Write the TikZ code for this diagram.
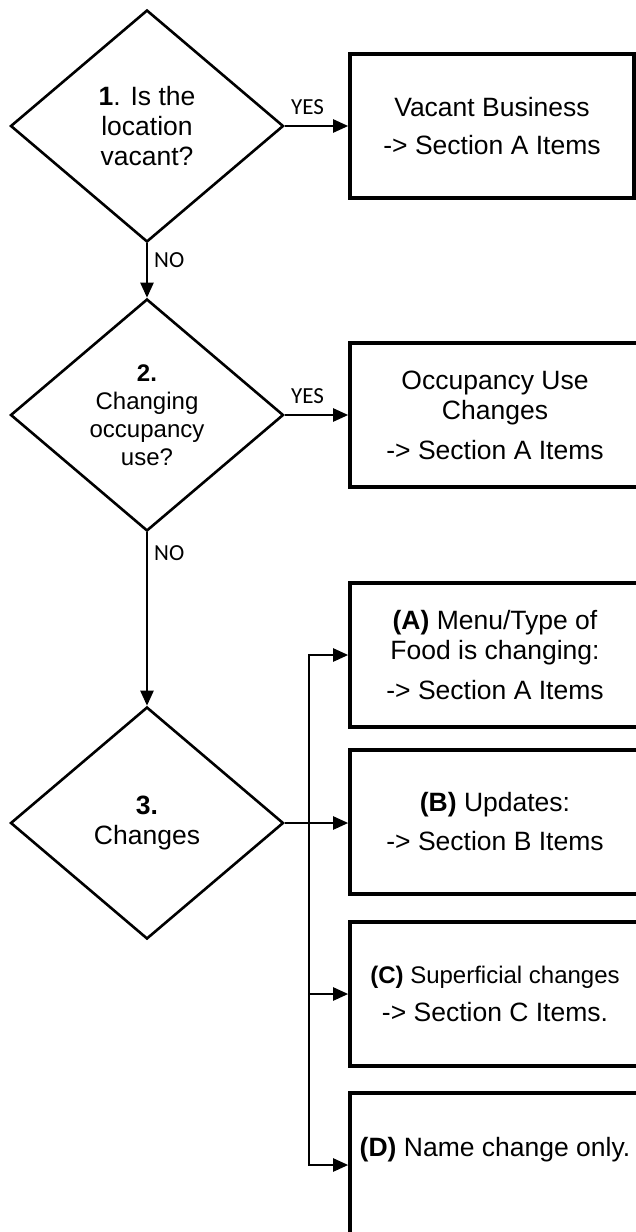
\documentclass[tikz,border=0pt]{standalone}
\usepackage{fontspec}
\setmainfont{Liberation Sans}
\newfontfamily\labelfont{Carlito}
\usepackage{tikz}
\usetikzlibrary{shapes.geometric,arrows.meta,calc}

\tikzset{
  question/.style={diamond, draw, line width=2.6pt, minimum width=273pt,
    minimum height=232pt, inner sep=0pt, align=center,
    font=\fontsize{26.5}{30}\selectfont},
  outcome/.style={rectangle, draw, line width=3.6pt, minimum width=290pt,
    minimum height=144pt, inner sep=0pt, align=center,
    font=\fontsize{26.5}{30}\selectfont},
  flow/.style={line width=2.3pt, -{Triangle[length=15pt,width=13pt]}},
  answer/.style={font=\labelfont\fontsize{23}{23}\selectfont, inner sep=3pt},
}

\begin{document}
\begin{tikzpicture}[x=1pt,y=-1pt]
  \useasboundingbox (0,0) rectangle (636,1232);

  \node[question] (q1) at (147,126) {\textbf{1}. Is the\\location\\vacant?};
  \node[question, font=\fontsize{24}{28}\selectfont] (q2) at (147,415)
    {\textbf{2.}\\Changing\\occupancy\\use?};
  \node[question] (q3) at (147,823) {\textbf{3.}\\Changes};

  \node[outcome, minimum width=284pt] (vacant) at (492,126)
    {Vacant Business\\[8pt]-> Section A Items};
  \node[outcome] (occupancy) at (495,415)
    {Occupancy Use\\Changes\\[10pt]-> Section A Items};
  \node[outcome] (menu) at (495,655)
    {\textbf{(A)} Menu/Type of\\Food is changing:\\[10pt]-> Section A Items};
  \node[outcome] (updates) at (495,822)
    {\textbf{(B)} Updates:\\[9pt]-> Section B Items};
  \node[outcome] (cosmetic) at (495,994)
    {{\fontsize{24}{30}\selectfont\textbf{(C)} Superficial changes}\\[8pt]-> Section C Items.};
  \node[outcome, text depth=36pt] (rename) at (495,1165)
    {\textbf{(D)} Name change only.};

  \draw[flow] (q1.east) -- (vacant.west |- q1.east)
    node[answer, pos=0.36, above=7pt] (yes1) {YES};
  \draw[flow] (q2.east) -- (occupancy.west |- q2.east)
    node[answer, pos=0.36, above=7pt] (yes2) {YES};
  \draw[flow] (q1.south) -- (q2.north)
    node[answer, pos=0.3, right=3pt] (no1) {NO};
  \draw[flow] (q2.south) -- (q3.north)
    node[answer, pos=0.12, right=3pt] (no2) {NO};

  \coordinate (split) at ($(q3.east)+(24,0)$);
  \draw[flow] (q3.east) -- (updates.west |- q3.east);
  \foreach \b in {menu,cosmetic,rename} {
    \draw[flow] (split) |- (\b.west);
  }
\end{tikzpicture}
\end{document}
